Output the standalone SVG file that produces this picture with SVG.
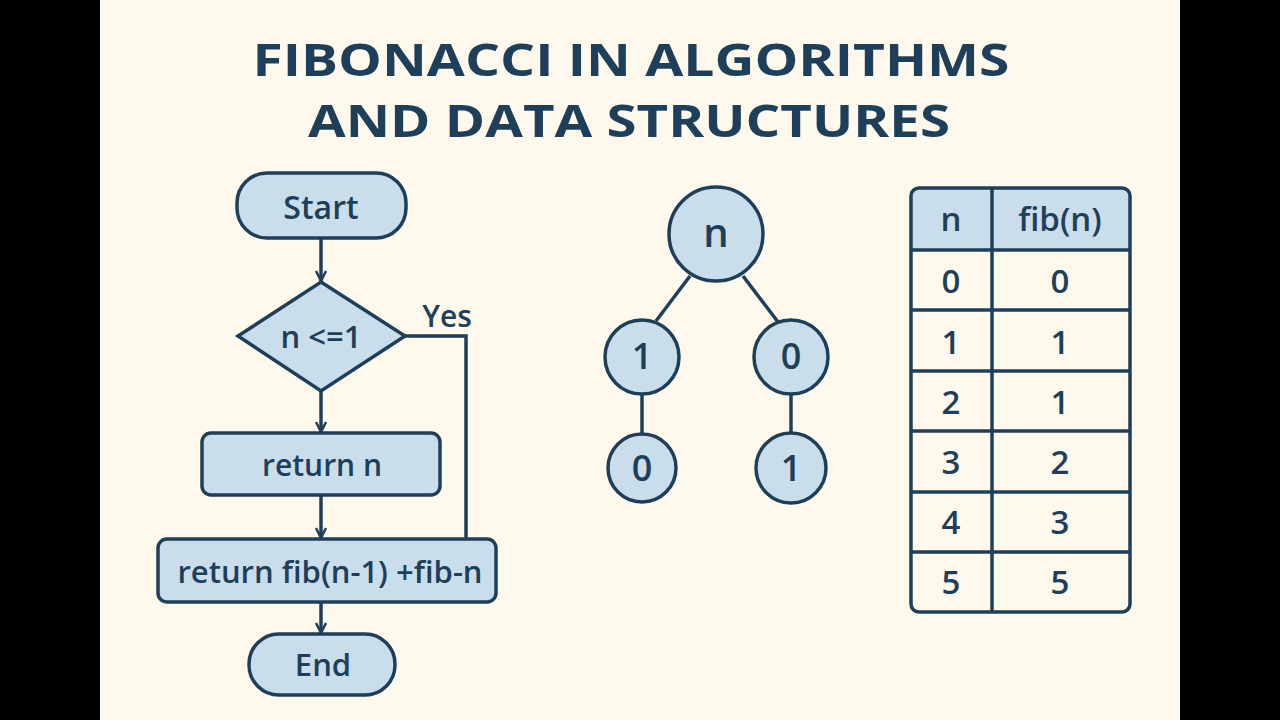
<svg xmlns="http://www.w3.org/2000/svg" width="1280" height="720" viewBox="0 0 1280 720">
<defs>
<style>
.bg{fill:#FEF9EC}
.shape{fill:#C9DEEA;stroke:#1E3F5A;stroke-width:3.5}
.cell{fill:none;stroke:#1E3F5A;stroke-width:3.5}
.line{fill:none;stroke:#1E3F5A;stroke-width:3.5}
.t{font-family:"Open Sans","Liberation Sans",sans-serif;font-weight:600;fill:#1E3F5A;text-anchor:middle;dominant-baseline:central}
.title{font-family:"Open Sans","Liberation Sans",sans-serif;font-weight:700;fill:#1E3F5A;text-anchor:middle;font-size:44px}
</style>
<marker id="arr" viewBox="0 0 12 12" refX="11" refY="6" markerWidth="12" markerHeight="12" markerUnits="userSpaceOnUse" orient="auto">
<path d="M1,1 L11,6 L1,11" fill="none" stroke="#1E3F5A" stroke-width="2.5"/>
</marker>
</defs>
<rect x="0" y="0" width="1280" height="720" fill="#000"/>
<rect class="bg" x="100" y="0" width="1080" height="720"/>
<g id="title">
<text class="title" x="631" y="76" textLength="757" lengthAdjust="spacingAndGlyphs">FIBONACCI IN ALGORITHMS</text>
<text class="title" x="629" y="137" textLength="642" lengthAdjust="spacingAndGlyphs">AND DATA STRUCTURES</text>
</g>
<g id="connectors">
<line class="line" x1="321" y1="238" x2="321" y2="281" marker-end="url(#arr)"/>
<line class="line" x1="321" y1="391" x2="321" y2="432" marker-end="url(#arr)"/>
<line class="line" x1="321" y1="495" x2="321" y2="538" marker-end="url(#arr)"/>
<line class="line" x1="321" y1="602" x2="321" y2="633" marker-end="url(#arr)"/>
<polyline class="line" points="405,336 466,336 466,539"/>
<text class="t" x="447" y="315" font-size="30" font-weight="500">Yes</text>
<line class="line" x1="690" y1="276" x2="656" y2="321"/>
<line class="line" x1="743" y1="276" x2="778" y2="322"/>
<line class="line" x1="642" y1="394" x2="642" y2="434"/>
<line class="line" x1="791" y1="394" x2="791" y2="433"/>
</g>
<g id="start">
<rect class="shape" x="237" y="173" width="169" height="65" rx="30"/>
<text class="t" x="321" y="206" font-size="32">Start</text>
</g>
<g id="decision">
<polygon class="shape" points="321,282 405,336 321,391 238,336"/>
<text class="t" x="321" y="336" font-size="31">n &lt;=1</text>
</g>
<g id="return-n">
<rect class="shape" x="202" y="433" width="238" height="62" rx="9"/>
<text class="t" x="322" y="464" font-size="30">return n</text>
</g>
<g id="return-fib">
<rect class="shape" x="158" y="539" width="338" height="63" rx="9"/>
<text class="t" x="330" y="571" font-size="31">return fib(n-1) +fib-n</text>
</g>
<g id="end">
<rect class="shape" x="249" y="634" width="146" height="61" rx="30"/>
<text class="t" x="323" y="664" font-size="31">End</text>
</g>
<g id="tree-root">
<circle class="shape" cx="716" cy="234" r="47"/>
<text class="t" x="716" y="231" font-size="40">n</text>
</g>
<g id="tree-l">
<circle class="shape" cx="642" cy="357" r="37"/>
<text class="t" x="642" y="355" font-size="36">1</text>
</g>
<g id="tree-r">
<circle class="shape" cx="791" cy="357" r="37"/>
<text class="t" x="791" y="355" font-size="36">0</text>
</g>
<g id="tree-ll">
<circle class="shape" cx="642" cy="468" r="34"/>
<text class="t" x="642" y="467" font-size="36">0</text>
</g>
<g id="tree-rr">
<circle class="shape" cx="791" cy="468" r="35"/>
<text class="t" x="791" y="467" font-size="36">1</text>
</g>
<g id="table">
<path d="M919,188 H1122 A8,8 0 0 1 1130,196 V250 H911 V196 A8,8 0 0 1 919,188 Z" fill="#C9DEEA"/>
<rect class="cell" x="911" y="188" width="219" height="424" rx="8"/>
<line class="line" x1="992" y1="188" x2="992" y2="612"/>
<line class="line" x1="911" y1="250" x2="1130" y2="250"/>
<line class="line" x1="911" y1="310" x2="1130" y2="310"/>
<line class="line" x1="911" y1="371" x2="1130" y2="371"/>
<line class="line" x1="911" y1="431" x2="1130" y2="431"/>
<line class="line" x1="911" y1="492" x2="1130" y2="492"/>
<line class="line" x1="911" y1="552" x2="1130" y2="552"/>
<text class="t" x="951" y="218" font-size="33">n</text>
<text class="t" x="1060" y="218" font-size="33">fib(n)</text>
<text class="t" x="951" y="280" font-size="33">0</text>
<text class="t" x="1060" y="280" font-size="33">0</text>
<text class="t" x="951" y="341" font-size="33">1</text>
<text class="t" x="1060" y="341" font-size="33">1</text>
<text class="t" x="951" y="401" font-size="33">2</text>
<text class="t" x="1060" y="401" font-size="33">1</text>
<text class="t" x="951" y="461" font-size="33">3</text>
<text class="t" x="1060" y="461" font-size="33">2</text>
<text class="t" x="951" y="521" font-size="33">4</text>
<text class="t" x="1060" y="521" font-size="33">3</text>
<text class="t" x="951" y="581" font-size="33">5</text>
<text class="t" x="1060" y="581" font-size="33">5</text>
</g>
</svg>
